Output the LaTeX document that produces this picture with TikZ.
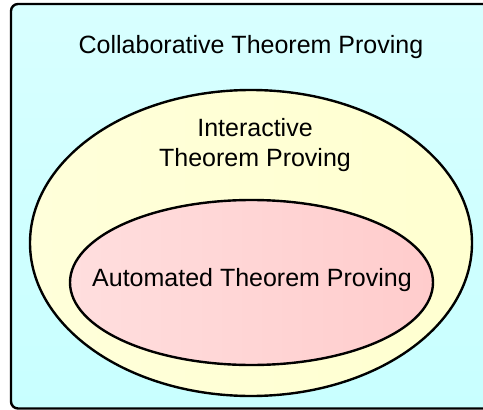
\documentclass[tikz,border=0pt]{standalone}
\usepackage{fontspec}
\setmainfont{Liberation Sans}
\usepackage{tikz}
\usetikzlibrary{positioning}
\definecolor{cyanlight}{RGB}{216,255,255}
\definecolor{cyandark}{RGB}{200,255,255}
\definecolor{yellowlight}{RGB}{255,255,218}
\definecolor{yellowdark}{RGB}{255,255,208}
\definecolor{pinklight}{RGB}{255,222,222}
\definecolor{pinkdark}{RGB}{255,204,204}
\tikzset{
    region/.style={draw=black, line width=2.4pt},
    collab/.style={region, rounded corners=7pt, top color=cyanlight, bottom color=cyandark},
    interact/.style={region, left color=yellowlight, right color=yellowdark},
    auto/.style={region, left color=pinklight, right color=pinkdark},
    label/.style={font=\fontsize{25}{30}\selectfont, align=center, inner sep=0pt},
}
\begin{document}
\begin{tikzpicture}[x=1pt, y=-1pt]
	\useasboundingbox (0,0) rectangle (483,410);
	% outer box
	\draw[collab] (11,4) rectangle (500,408.5);
	% ellipses
	\draw[interact] (251,243) ellipse [x radius=221, y radius=153];
	\draw[auto] (251.5,282.5) ellipse [x radius=181.5, y radius=82.5];
	% texts
	\node[label] (ctp) at (251,47) {Collaborative Theorem Proving};
	\node[label] (itp) at (255,145) {Interactive\\Theorem Proving};
	\node[label] (atp) at (252,280) {Automated Theorem Proving};
\end{tikzpicture}
\end{document}
